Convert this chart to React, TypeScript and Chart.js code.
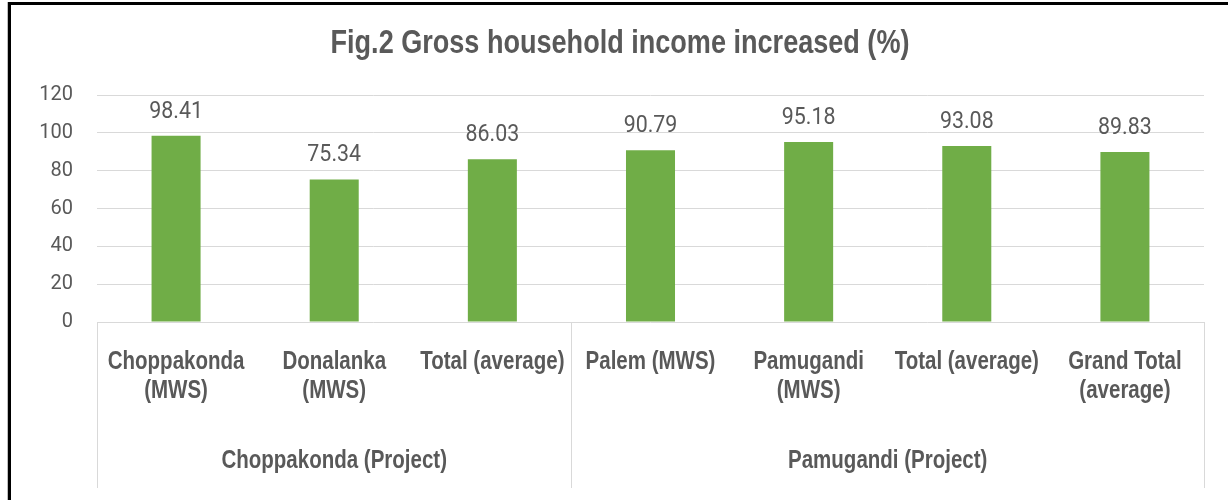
import React, { useEffect, useRef } from 'react';
import { Chart, registerables } from 'chart.js';

Chart.register(...registerables);

const titleText = 'Fig.2 Gross household income increased (%)';
const categories: string[][] = [
  ['Choppakonda', '(MWS)'],
  ['Donalanka', '(MWS)'],
  ['Total (average)'],
  ['Palem (MWS)'],
  ['Pamugandi', '(MWS)'],
  ['Total (average)'],
  ['Grand Total', '(average)'],
];
const values = [98.41, 75.34, 86.03, 90.79, 95.18, 93.08, 89.83];
const groups = ['Choppakonda (Project)', 'Pamugandi (Project)'];
const groupSizes = [3, 4];
const yMin = 0;
const yMax = 120;
const yStep = 20;

const NARROW_FONT = '"Liberation Sans", Arial, sans-serif';
const NARROW_SCALE = 0.82;
const TEXT = '#595959';
const GRID = '#d9d9d9';

function narrowText(ctx: CanvasRenderingContext2D, text: string, x: number, y: number, scale: number) {
  ctx.save();
  ctx.translate(x, y);
  ctx.scale(scale, 1);
  ctx.fillText(text, 0, 0);
  ctx.restore();
}

const decorPlugin = {
  id: 'decor',
  afterDraw(chart: any) {
    const { ctx, chartArea, scales } = chart;
    const xs = scales.x;
    ctx.save();
    ctx.fillStyle = TEXT;
    ctx.textAlign = 'center';
    ctx.textBaseline = 'alphabetic';

    // title
    ctx.font = 'bold 33px ' + NARROW_FONT;
    narrowText(ctx, titleText, 620, 53, NARROW_SCALE);

    // value labels
    ctx.font = '23px Roboto';
    const meta = chart.getDatasetMeta(0);
    meta.data.forEach((bar: any, i: number) => {
      narrowText(ctx, values[i].toFixed(2), bar.x, bar.y - 18, 0.93);
    });

    // category labels
    ctx.font = 'bold 25px ' + NARROW_FONT;
    categories.forEach((lines, i) => {
      const cx = xs.getPixelForValue(i);
      lines.forEach((ln, j) => {
        narrowText(ctx, ln, cx, 369 + j * 28.5, NARROW_SCALE);
      });
    });

    // separators and group labels
    const bottom = 488;
    ctx.strokeStyle = GRID;
    ctx.lineWidth = 1;
    let start = 0;
    const edges: number[] = [xs.getPixelForValue(-0.5)];
    groupSizes.forEach((n) => {
      start += n;
      edges.push(xs.getPixelForValue(start - 0.5));
    });
    edges.forEach((ex) => {
      const px = Math.round(ex) + 0.5;
      ctx.beginPath();
      ctx.moveTo(px, chartArea.bottom);
      ctx.lineTo(px, bottom);
      ctx.stroke();
    });
    groups.forEach((g, i) => {
      narrowText(ctx, g, (edges[i] + edges[i + 1]) / 2, 468, NARROW_SCALE);
    });

    // outer frame (cropped)
    ctx.fillStyle = '#bfbfbf';
    ctx.fillRect(7, 2, 1, 498);
    ctx.fillStyle = '#000000';
    ctx.fillRect(8, 2, 3, 498);
    ctx.fillRect(8, 2, 1220, 3);
    ctx.restore();
  },
};

export default function App() {
  const ref = useRef<HTMLCanvasElement | null>(null);
  useEffect(() => {
    document.body.style.margin = '0';
    const canvas = ref.current;
    if (!canvas) return;
    const chart = new Chart(canvas, {
      type: 'bar',
      data: {
        labels: categories.map((c) => c.join(' ')),
        datasets: [
          {
            data: values,
            backgroundColor: '#70AD47',
            borderWidth: 0,
            barPercentage: 0.31,
            categoryPercentage: 1,
          },
        ],
      },
      options: {
        animation: false,
        responsive: true,
        maintainAspectRatio: false,
        layout: { padding: { left: 12, right: 24, top: 95, bottom: 0 } },
        plugins: {
          legend: { display: false },
          tooltip: { enabled: false },
          title: { display: false },
        },
        scales: {
          x: {
            type: 'category',
            grid: { display: false },
            border: { display: false },
            ticks: { display: false },
            afterFit: (s: any) => {
              s.height = 178;
            },
          },
          y: {
            type: 'linear',
            min: yMin,
            max: yMax,
            grid: { color: GRID, lineWidth: 1, drawTicks: false },
            border: { display: false },
            ticks: {
              stepSize: yStep,
              color: TEXT,
              font: { family: 'Roboto', size: 20 },
              padding: 24,
            },
            afterFit: (s: any) => {
              s.width = 85;
            },
          },
        },
      },
      plugins: [decorPlugin],
    });
    return () => chart.destroy();
  }, []);
  return (
    <div style={{ position: 'relative', width: 1228, height: 500 }}>
      <canvas ref={ref} />
    </div>
  );
}
